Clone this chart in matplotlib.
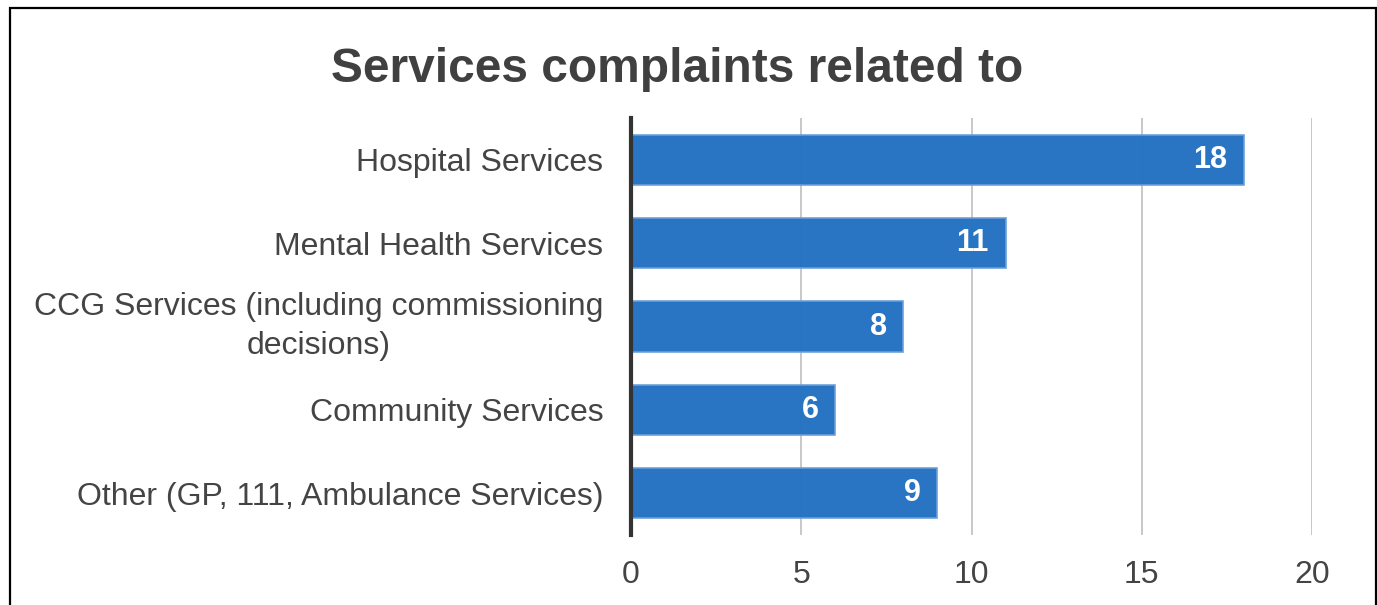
import matplotlib
matplotlib.use("Agg")
import matplotlib.pyplot as plt
from matplotlib.patches import Rectangle

categories = [
    "Hospital Services",
    "Mental Health Services",
    "CCG Services (including commissioning\ndecisions)",
    "Community Services",
    "Other (GP, 111, Ambulance Services)",
]
counts = [18, 11, 8, 6, 9]
x_ticks = [0, 5, 10, 15, 20]

plt.rcParams['font.family'] = ['Liberation Sans', 'DejaVu Sans']

W, H = 1377, 605
fig = plt.figure(figsize=(W / 100, H / 100), dpi=100)
ax = fig.add_axes([631 / W, 1 - 535 / H, (1312 - 631) / W, (535 - 118) / H])

ypos = list(range(len(categories)))
bars = ax.barh(ypos, counts, height=0.6, color="#2271c1", alpha=0.97,
               edgecolor="#6a9fd8", linewidth=1.2, zorder=3)

for rect, v in zip(bars, counts):
    ax.annotate(str(v), (rect.get_width(), rect.get_y() + rect.get_height() / 2),
                xytext=(-12, 0), textcoords="offset points",
                ha="right", va="center", color="white", fontsize=22,
                fontweight="bold", zorder=4)

ax.set_xlim(0, 20)
ax.set_ylim(4.5, -0.5)
ax.set_xticks(x_ticks)
ax.set_yticks(ypos)
ax.set_yticklabels(categories, multialignment="center", linespacing=1.35)
for lab in ax.get_yticklabels():
    if "\n" in lab.get_text():
        lab.set_va("center")
ax.tick_params(axis="both", length=0, labelsize=23, labelcolor="#444444")
ax.tick_params(axis="y", pad=20)
ax.tick_params(axis="x", pad=18)

ax.grid(axis="x", color="#c4c4c4", linewidth=1.3, zorder=0)
ax.grid(axis="y", visible=False)
for s in ["top", "right", "bottom"]:
    ax.spines[s].set_visible(False)
ax.spines["left"].set_color("#333333")
ax.spines["left"].set_linewidth(3)
ax.spines["left"].set_zorder(5)

fig.text(677 / W, 1 - 70 / H, "Services complaints related to", ha="center",
         va="center", fontsize=34.5, fontweight="bold", color="#404040")

fig.patches.append(Rectangle((10 / W, -0.1), (1376 - 10) / W, 1.1 - 8 / H,
                             transform=fig.transFigure, fill=False,
                             edgecolor="black", linewidth=1.6))

fig.savefig("out.png", dpi=100, facecolor="white")
